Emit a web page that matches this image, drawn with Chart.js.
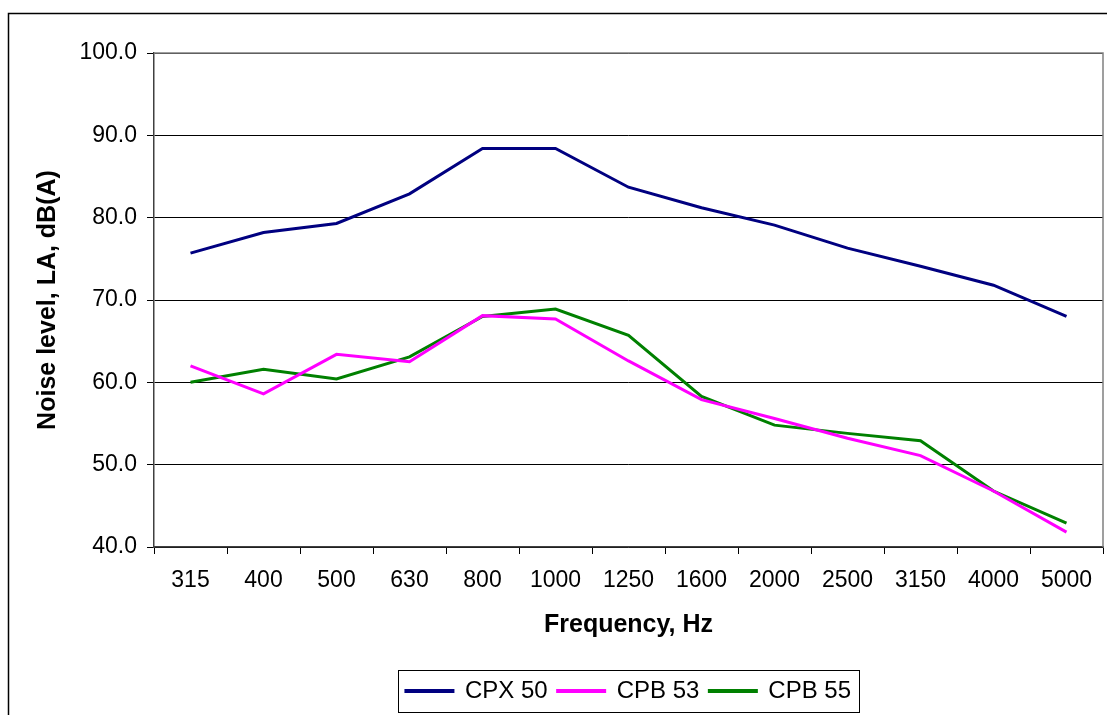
<!DOCTYPE html>
<html>
<head>
<meta charset="utf-8">
<title>Noise level vs frequency</title>
<script src="https://cdn.jsdelivr.net/npm/chart.js@4.4.1/dist/chart.umd.min.js"></script>
<style>
  html, body { margin: 0; padding: 0; background: #fff; }
  #wrap { width: 1107px; height: 715px; position: relative; }
</style>
</head>
<body>
<div id="wrap"><canvas id="noiseChart"></canvas></div>
<script>
// frequency bands, Hz
const frequencies = ['315', '400', '500', '630', '800', '1000', '1250', '1600', '2000', '2500', '3150', '4000', '5000'];

// noise level LA, dB(A)
const cpx50 = [75.7, 78.2, 79.3, 82.9, 88.4, 88.4, 83.7, 81.2, 79.1, 76.3, 74.1, 71.8, 68.0];
const cpb53 = [62.0, 58.6, 63.4, 62.5, 68.1, 67.7, 62.6, 57.9, 55.6, 53.2, 51.1, 46.8, 41.8];
const cpb55 = [60.0, 61.6, 60.4, 63.1, 68.0, 68.9, 65.7, 58.3, 54.8, 53.8, 52.9, 46.8, 42.9];

const yTicks = [40, 50, 60, 70, 80, 90, 100];

const FONT = "'Liberation Sans', Arial, sans-serif";

// outer frame + grey plot border + box round the legend
const framePlugin = {
    id: 'frame',
    beforeDatasetsDraw(chart) {
        const { ctx, chartArea: a } = chart;
        ctx.save();
        ctx.strokeStyle = '#808080';
        ctx.lineWidth = 1.5;
        ctx.beginPath();
        ctx.moveTo(a.left, a.top);
        ctx.lineTo(a.right, a.top);
        ctx.lineTo(a.right, a.bottom);
        ctx.stroke();
        ctx.restore();
    },
    afterDraw(chart) {
        const ctx = chart.ctx;
        ctx.save();
        ctx.strokeStyle = '#000';
        ctx.lineWidth = 1.5;
        ctx.strokeRect(8.5, 13.5, 3000, 3000);

        const lg = chart.legend;
        if (lg && lg.legendHitBoxes && lg.legendHitBoxes.length) {
            const boxes = lg.legendHitBoxes;
            const first = boxes[0];
            const last = boxes[boxes.length - 1];
            ctx.lineWidth = 1;
            ctx.strokeStyle = '#000';
            ctx.strokeRect(Math.round(first.left - 8) + 0.5, Math.round(lg.top + 1) + 0.5,
                Math.round(last.left + last.width - first.left + 16), Math.round(lg.height - 2));
        }
        ctx.restore();
    }
};

new Chart(document.getElementById('noiseChart'), {
    type: 'line',
    data: {
        labels: frequencies,
        datasets: [
            { label: 'CPX 50', data: cpx50, borderColor: '#000080', backgroundColor: '#000080' },
            { label: 'CPB 53', data: cpb53, borderColor: '#ff00ff', backgroundColor: '#ff00ff' },
            { label: 'CPB 55', data: cpb55, borderColor: '#008000', backgroundColor: '#008000' }
        ]
    },
    options: {
        responsive: true,
        maintainAspectRatio: false,
        animation: false,
        layout: { padding: { left: 10, top: 53, right: 4, bottom: 2 } },
        elements: {
            line: { borderWidth: 3, tension: 0, fill: false },
            point: { radius: 0, hoverRadius: 0 }
        },
        plugins: {
            tooltip: { enabled: false },
            legend: {
                position: 'bottom',
                fullSize: false,
                labels: {
                    color: '#000',
                    font: { family: FONT, size: 24 },
                    boxWidth: 47,
                    boxHeight: 1,
                    padding: 10
                }
            }
        },
        scales: {
            x: {
                offset: true,
                grid: { display: true, drawOnChartArea: false, offset: true, color: '#000', tickLength: 7 },
                border: { color: '#404040', width: 1.5 },
                ticks: { color: '#000', font: { family: FONT, size: 23 }, padding: 13, maxRotation: 0, autoSkip: false },
                title: {
                    display: true,
                    text: 'Frequency, Hz',
                    color: '#000',
                    font: { family: FONT, size: 25, weight: 'bold' },
                    padding: { top: 0, bottom: 29 }
                },
                afterFit(scale) { scale.height = 122; }
            },
            y: {
                min: 40,
                max: 100,
                afterBuildTicks(scale) { scale.ticks = yTicks.map(v => ({ value: v })); },
                grid: { color: '#000', lineWidth: 1, tickLength: 7 },
                border: { color: '#404040', width: 1.5 },
                ticks: {
                    color: '#000',
                    font: { family: FONT, size: 23 },
                    padding: 10,
                    callback: v => Number(v).toFixed(1)
                },
                title: {
                    display: true,
                    text: 'Noise level, LA, dB(A)',
                    color: '#000',
                    font: { family: FONT, size: 25, weight: 'bold' },
                    padding: { top: 23, bottom: 0 }
                },
                afterFit(scale) { scale.width = 144; }
            }
        }
    },
    plugins: [framePlugin]
});
</script>
</body>
</html>
